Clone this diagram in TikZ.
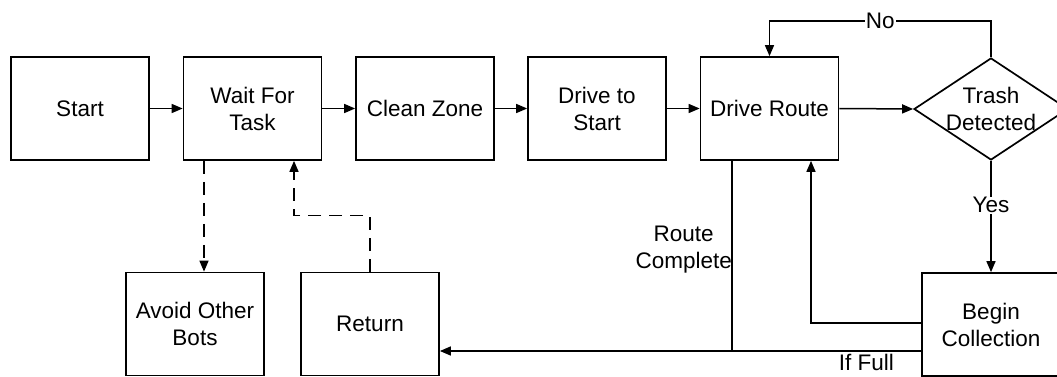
\documentclass[tikz,border=0pt]{standalone}
\usepackage{fontspec}
\setmainfont{Liberation Sans}
\usetikzlibrary{arrows.meta,shapes.geometric,calc}
\begin{document}
\begin{tikzpicture}[x=1pt,y=-1pt,
  every node/.style={font=\fontsize{22.5}{27}\selectfont},
  box/.style={draw,line width=1.7pt,minimum width=138pt,minimum height=103pt,inner sep=0pt,align=center},
  arr/.style={line width=1.5pt,-{Triangle[length=11pt,width=9pt]}},
  ln/.style={line width=1.5pt},
  dasharr/.style={arr,dash pattern=on 13pt off 8pt},
  lbl/.style={fill=white,inner sep=1pt}]
\useasboundingbox (0,0) rectangle (1057,377);
\node[box] (start) at (80,108.5) {Start};
\node[box] (wait) at (252.5,108.5) {Wait For\\Task};
\node[box] (clean) at (425,108.5) {Clean Zone};
\node[box] (dstart) at (597,108.5) {Drive to\\Start};
\node[box] (dr) at (769.5,108.5) {Drive Route};
\node[diamond,draw,line width=1.7pt,minimum width=154pt,minimum height=102pt,inner sep=0pt] (dia) at (991,109) {};
\node[align=center] (diat) at (dia.center) {Trash\\Detected};
\node[box] (bc) at (991,324.5) {Begin\\Collection};
\node[box] (avoid) at (195,324) {Avoid Other\\Bots};
\node[box] (ret) at (370,324) {Return};

\draw[arr] (start) -- (wait);
\draw[arr] (wait) -- (clean);
\draw[arr] (clean) -- (dstart);
\draw[arr] (dstart) -- (dr);
\draw[arr] (dr.east) -- (dia.west);
\draw[arr] (dia.north) -- ++(0,-36) coordinate (n1) -- node[lbl] {No} (n1 -| dr.north) -- (dr.north);
\draw[arr] (dia.south) -- node[lbl,pos=0.4] {Yes} (bc.north);
\draw[arr] ([yshift=1.5pt]bc.west) -| ([xshift=41.5pt]dr.south);
\coordinate (full) at ([yshift=-26.5pt]bc.west);
\draw[arr] (full) -- node[below,pos=0.114,inner sep=2pt] {If Full} (full -| ret.east);
\draw[ln] ([xshift=-37.5pt]dr.south) -- ([xshift=-37.5pt]dr.south |- full);
\node[anchor=east,align=center,inner sep=1pt] (rc) at (733,250) {Route\\Complete};
\draw[dasharr] ([xshift=-48.5pt]wait.south) -- ([xshift=-48.5pt]wait.south |- avoid.north);
\draw[dasharr] (ret.north) -- ++(0,-56) -| ([xshift=41.5pt]wait.south);
\end{tikzpicture}
\end{document}
